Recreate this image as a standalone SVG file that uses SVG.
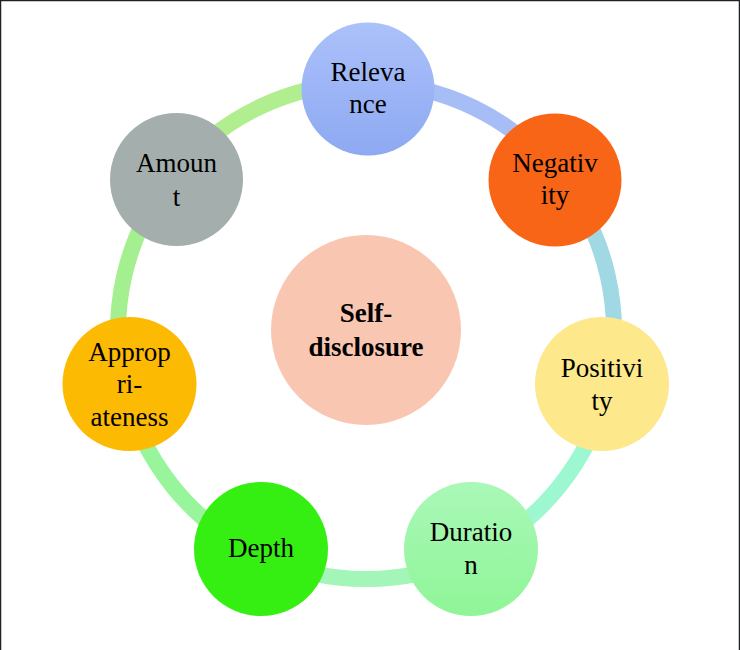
<svg xmlns="http://www.w3.org/2000/svg" width="740" height="650" viewBox="0 0 740 650">
  <defs>
    <style>
      .ring { fill: none; stroke-width: 16; }
      .lbl { font-family: "Liberation Serif", "Times New Roman", serif; font-size: 27px; fill: #000; text-anchor: middle; }
      .bold { font-weight: bold; }
    </style>
    <linearGradient id="gRel" x1="0" y1="0" x2="0" y2="1">
      <stop offset="0" stop-color="#abc1fa"/>
      <stop offset="1" stop-color="#8ea9f2"/>
    </linearGradient>
    <linearGradient id="gDur" x1="0" y1="0" x2="0" y2="1">
      <stop offset="0" stop-color="#aaf8b8"/>
      <stop offset="1" stop-color="#8ff597"/>
    </linearGradient>
  </defs>
  <rect x="0" y="0" width="740" height="650" fill="#ffffff"/>
  <path d="M0.5 650 V0.5 H739.5 V650" fill="none" stroke="#1e2222" stroke-width="1.5"/>

  <g id="connectors">
    <path class="ring" stroke="#a7bdf6" d="M368.2 83 A248 248 0 0 1 559.8 176.3"/>
    <path class="ring" stroke="#a0d9e4" d="M559.8 176.3 A248 248 0 0 1 607.9 385.5"/>
    <path class="ring" stroke="#9df8d2" d="M607.9 385.5 A248 248 0 0 1 473.6 554.5"/>
    <path class="ring" stroke="#a3f5b8" d="M473.6 554.5 A248 248 0 0 1 258.4 554.5"/>
    <path class="ring" stroke="#98f59b" d="M258.4 554.5 A248 248 0 0 1 124 385.1"/>
    <path class="ring" stroke="#a4f090" d="M124 385.1 A248 248 0 0 1 172.5 176"/>
    <path class="ring" stroke="#b0ee8f" d="M172.5 176 A248 248 0 0 1 368.2 83"/>
  </g>

  <g id="node-self">
    <circle cx="366" cy="330" r="95" fill="#f9c6b1"/>
    <text class="lbl bold" x="366" y="322">Self-</text>
    <text class="lbl bold" x="366" y="356">disclosure</text>
  </g>
  <g id="node-relevance">
    <circle cx="368" cy="89" r="66.5" fill="url(#gRel)"/>
    <text class="lbl" x="368" y="81">Releva</text>
    <text class="lbl" x="368" y="113">nce</text>
  </g>
  <g id="node-negativity">
    <circle cx="555" cy="180" r="66.5" fill="#f86517"/>
    <text class="lbl" x="555" y="172">Negativ</text>
    <text class="lbl" x="555" y="204">ity</text>
  </g>
  <g id="node-positivity">
    <circle cx="602" cy="384" r="67" fill="#fde88b"/>
    <text class="lbl" x="602" y="377">Positivi</text>
    <text class="lbl" x="602" y="410">ty</text>
  </g>
  <g id="node-duration">
    <circle cx="471" cy="549" r="67" fill="url(#gDur)"/>
    <text class="lbl" x="471" y="541">Duratio</text>
    <text class="lbl" x="471" y="574">n</text>
  </g>
  <g id="node-depth">
    <circle cx="261" cy="549" r="67" fill="#35ef13"/>
    <text class="lbl" x="261" y="557">Depth</text>
  </g>
  <g id="node-appropriateness">
    <circle cx="129.5" cy="384" r="67" fill="#fdba02"/>
    <text class="lbl" x="129.5" y="361">Approp</text>
    <text class="lbl" x="129.5" y="393">ri-</text>
    <text class="lbl" x="129.5" y="426">ateness</text>
  </g>
  <g id="node-amount">
    <circle cx="176.5" cy="179.5" r="66.5" fill="#a4aeac"/>
    <text class="lbl" x="176.5" y="172">Amoun</text>
    <text class="lbl" x="176.5" y="206">t</text>
  </g>
</svg>
